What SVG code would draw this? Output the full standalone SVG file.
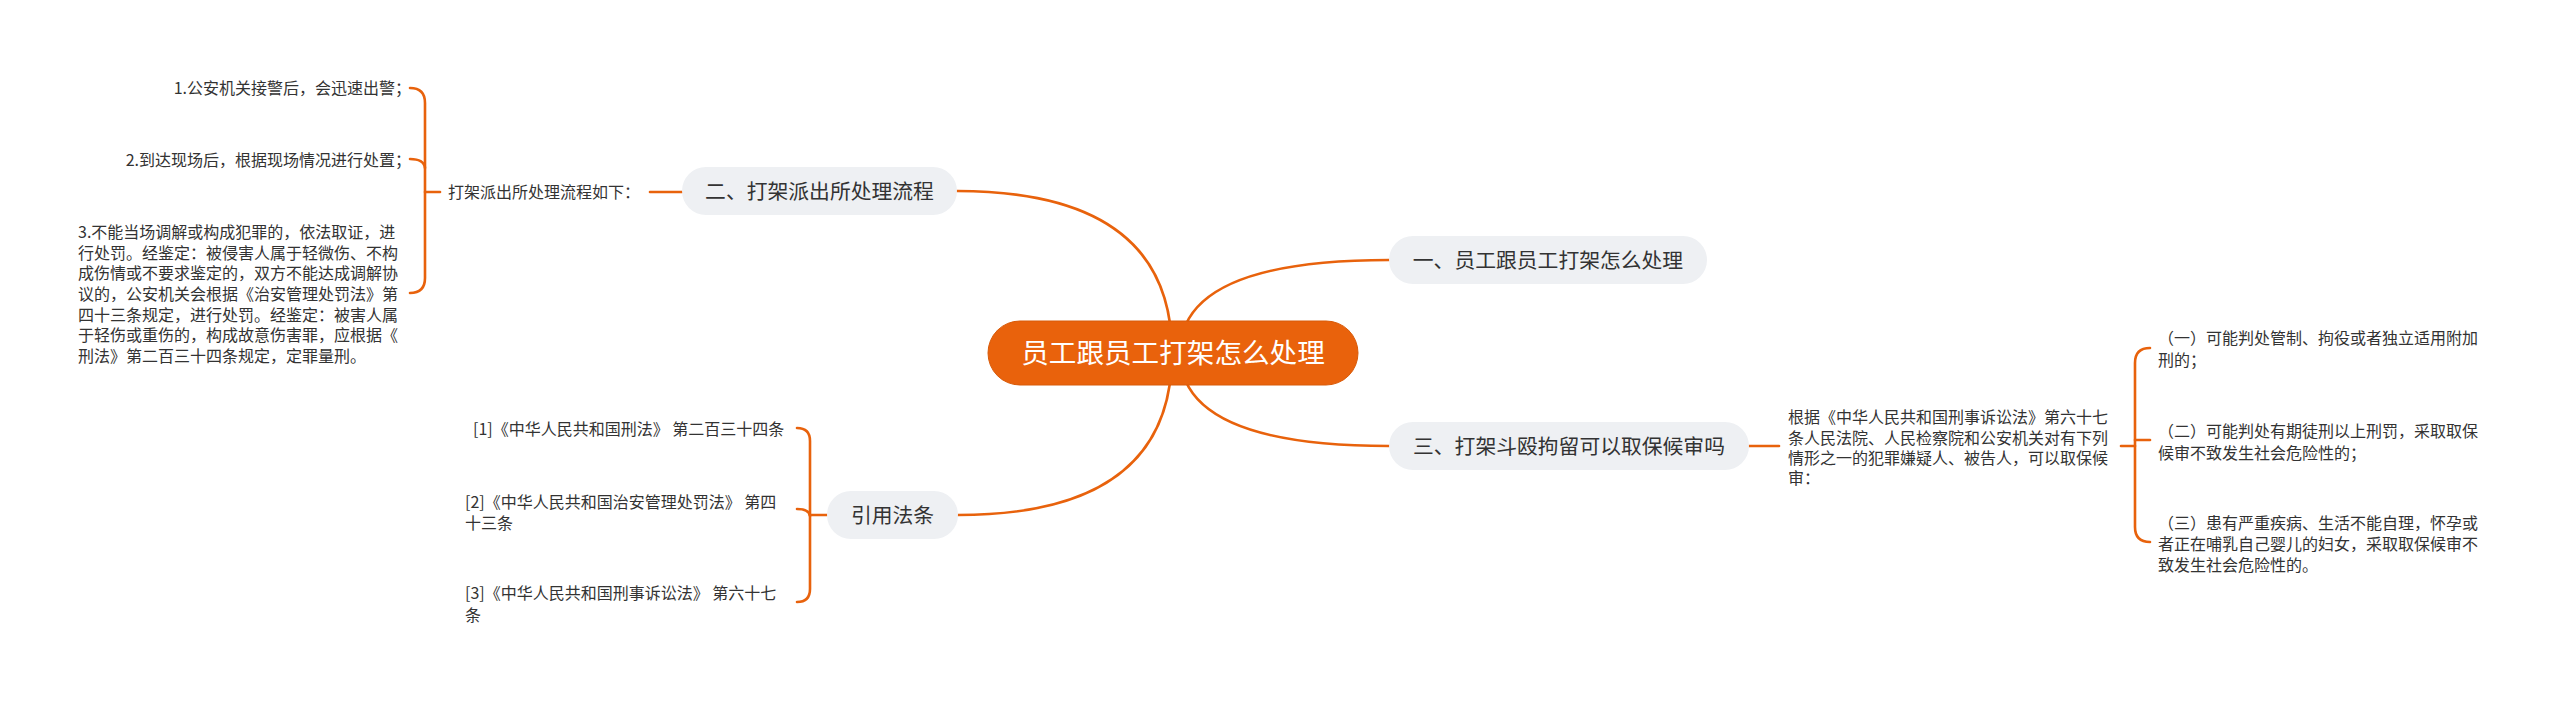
<svg xmlns="http://www.w3.org/2000/svg" width="2560" height="701" viewBox="0 0 2560 701">
<style>
.c{fill:none;stroke:#e8620c;stroke-width:2.6;stroke-linecap:round}
.t{font-family:"Noto Sans CJK SC","Noto Sans",sans-serif;font-size:16px;fill:#333}
.n{font-family:"Noto Sans CJK SC","Noto Sans",sans-serif;font-size:20.8px;fill:#333;text-anchor:middle}
.nb{fill:#eef0f3}
.r{font-family:"Noto Sans CJK SC","Noto Sans",sans-serif;font-size:27.6px;fill:#fff;text-anchor:middle}
</style>
<rect width="2560" height="701" fill="#fff"/>
<g id="connectors">
<path class="c" d="M957,191 Q1172,191 1172,353"/>
<path class="c" d="M1180,353 Q1180,260 1389,260"/>
<path class="c" d="M1180,353 Q1180,446 1389,446"/>
<path class="c" d="M1172,353 Q1172,515 958,515"/>
<path class="c" d="M650,192 H682"/>
<path class="c" d="M410,88 Q425,88 425,103 V278 Q425,293 410,293"/>
<path class="c" d="M410,159 Q424,159 425,168"/>
<path class="c" d="M425,192 H440"/>
<path class="c" d="M797,428 Q810,428 810,441 V589 Q810,602 797,602"/>
<path class="c" d="M797,509 Q809,509 810,516"/>
<path class="c" d="M810,515 H827"/>
<path class="c" d="M1749,446 H1779"/>
<path class="c" d="M2121,446 H2135"/>
<path class="c" d="M2150,348 Q2135,348 2135,363 V527 Q2135,542 2150,542"/>
<path class="c" d="M2135,440 H2150"/>
</g>
<g id="root">
<rect x="988" y="321" width="370" height="64" rx="32" fill="#e9620c" stroke="#d85a08" stroke-width="1"/>
<text class="r" x="1173" y="363">员工跟员工打架怎么处理</text>
</g>
<g id="node-2">
<rect class="nb" x="682" y="167" width="275" height="48" rx="24"/>
<text class="n" x="819.5" y="198.5">二、打架派出所处理流程</text>
</g>
<g id="node-2-intro">
<text class="t" x="448" y="198">打架派出所处理流程如下：</text>
</g>
<g id="node-2-1">
<text class="t" x="411" y="94" text-anchor="end">1.公安机关接警后，会迅速出警；</text>
</g>
<g id="node-2-2">
<text class="t" x="411" y="166" text-anchor="end">2.到达现场后，根据现场情况进行处置；</text>
</g>
<g id="node-2-3">
<text class="t" x="78" y="238">3.不能当场调解或构成犯罪的，依法取证，进</text>
<text class="t" x="78" y="259">行处罚。经鉴定：被侵害人属于轻微伤、不构</text>
<text class="t" x="78" y="279">成伤情或不要求鉴定的，双方不能达成调解协</text>
<text class="t" x="78" y="300">议的，公安机关会根据《治安管理处罚法》第</text>
<text class="t" x="78" y="321">四十三条规定，进行处罚。经鉴定：被害人属</text>
<text class="t" x="78" y="341">于轻伤或重伤的，构成故意伤害罪，应根据《</text>
<text class="t" x="78" y="362">刑法》第二百三十四条规定，定罪量刑。</text>
</g>
<g id="node-1">
<rect class="nb" x="1389" y="236" width="318" height="48" rx="24"/>
<text class="n" x="1548" y="267.5">一、员工跟员工打架怎么处理</text>
</g>
<g id="node-3">
<rect class="nb" x="1389" y="422" width="360" height="48" rx="24"/>
<text class="n" x="1569" y="453.5">三、打架斗殴拘留可以取保候审吗</text>
</g>
<g id="node-3-intro">
<text class="t" x="1788" y="423">根据《中华人民共和国刑事诉讼法》第六十七</text>
<text class="t" x="1788" y="444">条人民法院、人民检察院和公安机关对有下列</text>
<text class="t" x="1788" y="464">情形之一的犯罪嫌疑人、被告人，可以取保候</text>
<text class="t" x="1788" y="484">审：</text>
</g>
<g id="node-3-1">
<text class="t" x="2158" y="344">（一）可能判处管制、拘役或者独立适用附加</text>
<text class="t" x="2158" y="366">刑的；</text>
</g>
<g id="node-3-2">
<text class="t" x="2158" y="437">（二）可能判处有期徒刑以上刑罚，采取取保</text>
<text class="t" x="2158" y="459">候审不致发生社会危险性的；</text>
</g>
<g id="node-3-3">
<text class="t" x="2158" y="529">（三）患有严重疾病、生活不能自理，怀孕或</text>
<text class="t" x="2158" y="550">者正在哺乳自己婴儿的妇女，采取取保候审不</text>
<text class="t" x="2158" y="571">致发生社会危险性的。</text>
</g>
<g id="node-4">
<rect class="nb" x="827" y="491" width="131" height="48" rx="24"/>
<text class="n" x="892.5" y="522.5">引用法条</text>
</g>
<g id="node-4-1">
<text class="t" x="473" y="435">[1]《中华人民共和国刑法》 第二百三十四条</text>
</g>
<g id="node-4-2">
<text class="t" x="465" y="508">[2]《中华人民共和国治安管理处罚法》 第四</text>
<text class="t" x="465" y="529">十三条</text>
</g>
<g id="node-4-3">
<text class="t" x="465" y="599">[3]《中华人民共和国刑事诉讼法》 第六十七</text>
<text class="t" x="465" y="621">条</text>
</g>
</svg>
